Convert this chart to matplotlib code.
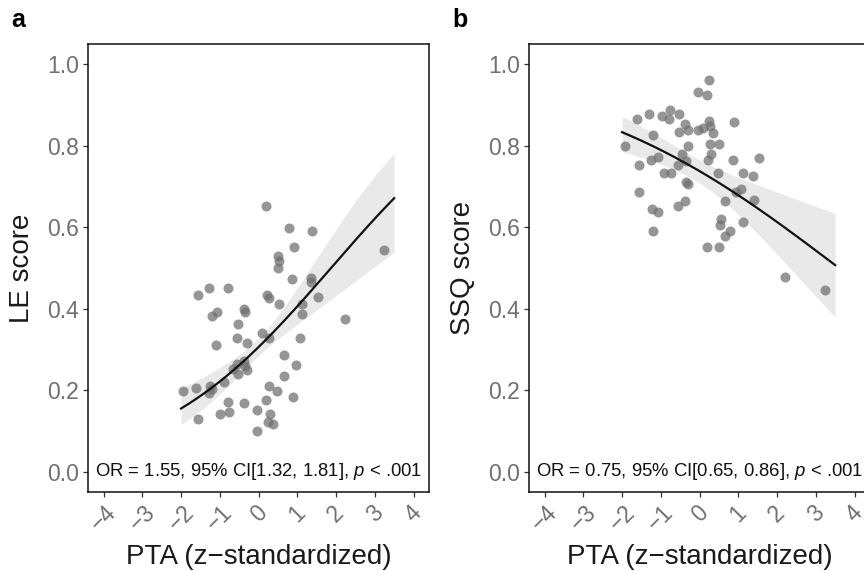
from matplotlib import pyplot as plt
import numpy as np

plt.rcParams['font.family'] = ['Liberation Sans', 'DejaVu Sans']
plt.rcParams['mathtext.fontset'] = 'custom'
plt.rcParams['mathtext.rm'] = 'Liberation Sans'
plt.rcParams['mathtext.it'] = 'Liberation Sans:italic'

# Panel a: LE score against PTA
PTA_A = [0.18, 0.78, 1.38, 0.92, 3.23, 0.51, 0.54, 0.51, 0.86, 1.36, 1.36,
         -1.27, -0.78, -1.55, 0.21, 0.28, 0.54, 1.53, 1.11, 1.11, 2.22,
         -1.08, -1.19, -0.38, -0.34, -0.52, 0.09, 0.27, -0.56, -0.31, -1.09,
         1.07, 0.65, 0.96, 0.65, -0.56, -0.38, -0.66, -0.52, -0.31, -0.35,
         -0.89, -1.24, -1.29, -1.20, -1.62, -1.94, 0.28, 0.47, 0.89, 0.18,
         -0.79, -0.38, -0.03, -0.77, -1.00, 0.30, -1.55, 0.25, 0.37, -0.03]
LE_SCORE = [0.651, 0.598, 0.592, 0.551, 0.543, 0.530, 0.518, 0.499, 0.474, 0.476, 0.465,
            0.452, 0.452, 0.434, 0.434, 0.426, 0.411, 0.429, 0.411, 0.387, 0.375,
            0.393, 0.381, 0.399, 0.393, 0.362, 0.340, 0.328, 0.328, 0.317, 0.312,
            0.328, 0.286, 0.261, 0.235, 0.265, 0.271, 0.253, 0.240, 0.250, 0.260,
            0.220, 0.211, 0.193, 0.203, 0.205, 0.199, 0.211, 0.199, 0.182, 0.175,
            0.170, 0.169, 0.152, 0.146, 0.141, 0.142, 0.129, 0.123, 0.117, 0.099]

# Panel b: SSQ score against PTA
PTA_B = [0.24, -0.03, 0.19, -1.30, -1.62, -0.98, -0.76, -0.80, -0.52, 0.89, 0.25,
         -0.37, 0.28, -0.30, -0.03, 0.10, -0.52, 0.36, -1.19, -1.93, -0.31,
         0.28, 0.51, -0.46, 0.30, 1.54, 0.86, 0.21, -1.07, -1.26, -0.35,
         -1.55, -0.55, -0.91, -0.74, 0.47, 1.11, 1.37, -0.34, -0.30, 1.08,
         0.94, -1.55, 0.65, 1.40, -0.37, -0.55, -1.23, -1.08, 0.56, 1.11,
         0.54, -1.19, 0.79, 0.65, 0.18, 0.51, 2.20, 3.23]
SSQ_SCORE = [0.961, 0.933, 0.925, 0.879, 0.866, 0.873, 0.887, 0.866, 0.879, 0.859, 0.860,
             0.853, 0.848, 0.839, 0.839, 0.843, 0.833, 0.832, 0.826, 0.799, 0.799,
             0.805, 0.805, 0.781, 0.780, 0.771, 0.766, 0.766, 0.772, 0.765, 0.762,
             0.752, 0.752, 0.733, 0.733, 0.733, 0.733, 0.725, 0.712, 0.705, 0.693,
             0.686, 0.686, 0.665, 0.666, 0.665, 0.653, 0.645, 0.637, 0.620, 0.613,
             0.605, 0.592, 0.592, 0.579, 0.551, 0.551, 0.478, 0.445]

# Logistic fit: intercept, slope, se(intercept), se(slope), cov
FIT_A = dict(a = -0.82, b = np.log(1.55), se_a = 0.052, se_b = 0.0804, cov = -0.0001)
FIT_B = dict(a = 1.035, b = np.log(0.75), se_a = 0.075, se_b = 0.0714, cov = 0.0003)
FIT_RANGE = (-2, 3.5)

LABEL_A = r'OR = 1.55, 95% CI[1.32, 1.81], $\mathit{p}$ < .001'
LABEL_B = r'OR = 0.75, 95% CI[0.65, 0.86], $\mathit{p}$ < .001'

XTICKS = list(range(-4, 5))
YTICKS = [0.0, 0.2, 0.4, 0.6, 0.8, 1.0]

TICK_GREY = '#707070'


def inv_logit(z):
  return 1 / (1 + np.exp(-z))


def draw_panel(ax, x, y, fit, ylabel, stat_label):
  grid = np.linspace(FIT_RANGE[0], FIT_RANGE[1], 200)
  eta = fit['a'] + fit['b'] * grid
  se = np.sqrt(fit['se_a'] ** 2 + 2 * grid * fit['cov'] + grid ** 2 * fit['se_b'] ** 2)
  ax.fill_between(grid, inv_logit(eta - 1.96 * se), inv_logit(eta + 1.96 * se),
                  color = '#e4e4e4', alpha = 0.8, linewidth = 0, zorder = 1)
  ax.scatter(x, y, s = 52, color = '#6e6e6e', alpha = 0.72, linewidths = 0, zorder = 2)
  ax.plot(grid, inv_logit(eta), color = '#111111', linewidth = 1.6, zorder = 3)

  ax.set_xlim(-4.4, 4.4)
  ax.set_ylim(-0.05, 1.05)
  ax.set_xticks(XTICKS)
  ax.set_xticklabels(['\u2212' + str(-t) if t < 0 else str(t) for t in XTICKS],
                     rotation = 45, ha = 'center', va = 'top')
  ax.set_yticks(YTICKS)
  ax.set_yticklabels(['{:.1f}'.format(t) for t in YTICKS])
  ax.tick_params(axis = 'both', direction = 'out', length = 3.5, width = 0.9,
                 color = '#333333', labelcolor = TICK_GREY, labelsize = 16.5, pad = 3)
  for spine in ax.spines.values():
    spine.set_linewidth(1.1)
    spine.set_color('#111111')

  ax.set_xlabel('PTA (z\u2212standardized)', fontsize = 20, color = '#1a1a1a', labelpad = 6)
  ax.set_ylabel(ylabel, fontsize = 20, color = '#1a1a1a', labelpad = 9)
  ax.text(0, 0.0, stat_label, ha = 'center', va = 'center', fontsize = 13.3,
          color = '#111111', zorder = 4)


fig = plt.figure(figsize = (8.64, 5.71), dpi = 100)
ax_a = fig.add_axes([0.1019, 0.1384, 0.3947, 0.7846])
ax_b = fig.add_axes([0.6123, 0.1384, 0.3947, 0.7846])

draw_panel(ax_a, PTA_A, LE_SCORE, FIT_A, 'LE score', LABEL_A)
draw_panel(ax_b, PTA_B, SSQ_SCORE, FIT_B, 'SSQ score', LABEL_B)

fig.text(18 / 864, 1 - 20 / 571, 'a', fontsize = 18, fontweight = 'bold',
         ha = 'center', va = 'center')
fig.text(460 / 864, 1 - 20 / 571, 'b', fontsize = 18, fontweight = 'bold',
         ha = 'center', va = 'center')

fig.savefig('out.png', dpi = 100)
